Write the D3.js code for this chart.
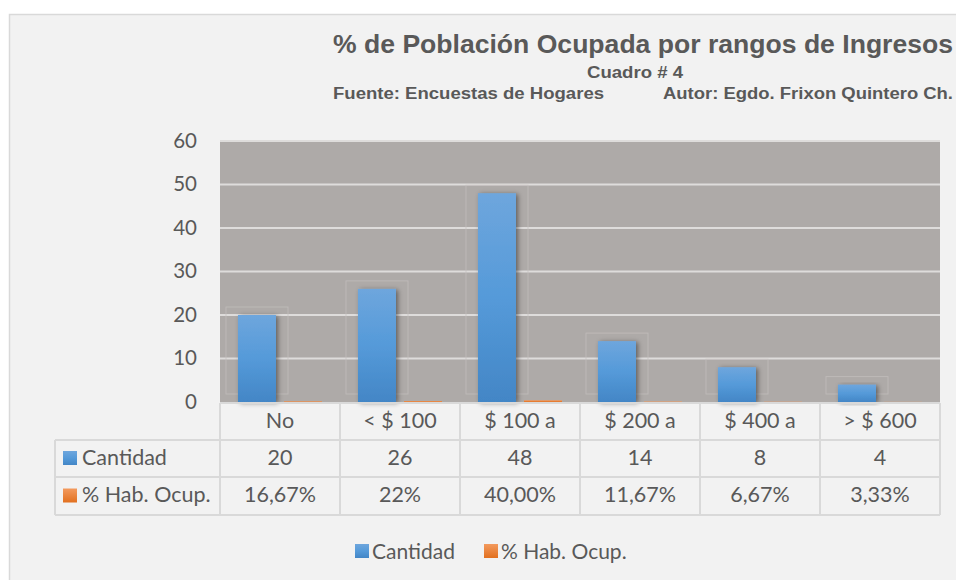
<!DOCTYPE html>
<html><head><meta charset="utf-8">
<script src="https://cdn.jsdelivr.net/npm/d3@7"></script>
<style>body{margin:0;background:#fff;}svg{display:block;}</style>
</head><body>
<svg id="c" width="956" height="580"></svg>
<script>
const categories = ["No", "< $ 100", "$ 100 a", "$ 200 a", "$ 400 a", "> $ 600"];
const seriesNames = ["Cantidad", "% Hab. Ocup."];
const cantidad = [20, 26, 48, 14, 8, 4];
const habOcup = [0.1667, 0.22, 0.40, 0.1167, 0.0667, 0.0333];
const habOcupLabels = ["16,67%", "22%", "40,00%", "11,67%", "6,67%", "3,33%"];
const yTicks = [0, 10, 20, 30, 40, 50, 60];

(function(){
const svg = d3.select("#c");
const txt = "#595959";
const calib = "Lato, 'Open Sans', sans-serif";
const arial = "'Liberation Sans', Arial, sans-serif";

const defs = svg.append("defs");
const g1 = defs.append("linearGradient").attr("id","gb").attr("x1",0).attr("y1",0).attr("x2",0).attr("y2",1);
g1.append("stop").attr("offset","0%").attr("stop-color","#6ea6dd");
g1.append("stop").attr("offset","50%").attr("stop-color","#559ad9");
g1.append("stop").attr("offset","100%").attr("stop-color","#4386c6");
const g2 = defs.append("linearGradient").attr("id","go").attr("x1",0).attr("y1",0).attr("x2",0).attr("y2",1);
g2.append("stop").attr("offset","0%").attr("stop-color","#f39a5e");
g2.append("stop").attr("offset","100%").attr("stop-color","#e2701f");
const f = defs.append("filter").attr("id","sh").attr("x","-30%").attr("y","-10%").attr("width","160%").attr("height","130%");
f.append("feDropShadow").attr("dx",2).attr("dy",1).attr("stdDeviation",2.5).attr("flood-color","#000").attr("flood-opacity",0.45);

svg.append("rect").attr("x",9.5).attr("y",14.5).attr("width",960).attr("height",580)
  .attr("fill","#f2f2f2").attr("stroke","#d9d9d9").attr("stroke-width",1.5);

svg.append("text").attr("x",643).attr("y",53).attr("text-anchor","middle")
  .attr("font-family",arial).attr("font-weight","bold").attr("font-size",25).attr("fill",txt)
  .attr("textLength",620).attr("lengthAdjust","spacingAndGlyphs")
  .text("% de Población Ocupada por rangos de Ingresos");
svg.append("text").attr("x",587).attr("y",78)
  .attr("font-family",arial).attr("font-weight","bold").attr("font-size",16.5).attr("fill",txt)
  .attr("textLength",96).attr("lengthAdjust","spacingAndGlyphs")
  .text("Cuadro # 4");
svg.append("text").attr("x",333).attr("y",98.5)
  .attr("font-family",arial).attr("font-weight","bold").attr("font-size",16).attr("fill",txt)
  .attr("textLength",271).attr("lengthAdjust","spacingAndGlyphs")
  .text("Fuente: Encuestas de Hogares");
svg.append("text").attr("x",663).attr("y",98.5)
  .attr("font-family",arial).attr("font-weight","bold").attr("font-size",16).attr("fill",txt)
  .attr("textLength",290).attr("lengthAdjust","spacingAndGlyphs")
  .text("Autor: Egdo. Frixon Quintero Ch.");

const pL = 220, pR = 940, pT = 141, pB = 402;
const x0 = d3.scaleBand().domain(categories).range([pL, pR]).padding(0);
const x1 = d3.scaleBand().domain(seriesNames).range([0, x0.bandwidth()]).paddingInner(8/46).paddingOuter(0.391);
const y = d3.scaleLinear().domain([0, 60]).range([pB, pT]);

svg.append("rect").attr("x",pL).attr("y",pT).attr("width",pR-pL).attr("height",pB-pT).attr("fill","#aeaaa8");
svg.append("g").selectAll("line").data(yTicks.filter(d=>d>0)).join("line")
  .attr("x1",pL).attr("x2",pR).attr("y1",d=>y(d)).attr("y2",d=>y(d))
  .attr("stroke","#dedcdb").attr("stroke-width",2);

const yAxis = d3.axisLeft(y).tickValues(yTicks).tickSize(0).tickPadding(0);
const ya = svg.append("g").attr("transform",`translate(197,0)`).call(yAxis);
ya.select(".domain").remove();
ya.selectAll("text").attr("font-family",calib).attr("font-size",20.5).attr("fill",txt).attr("dy","0.3em");

const data = categories.map((c,i)=>({c, vals:[cantidad[i], habOcup[i]]}));
const groups = svg.append("g").selectAll("g").data(data).join("g")
  .attr("transform", d=>`translate(${x0(d.c)},0)`);
groups.append("rect")
  .attr("x", x1("Cantidad")-12).attr("width", x1.bandwidth()+24)
  .attr("y", d=>y(d.vals[0])-8).attr("height", d=>pB-8-(y(d.vals[0])-8))
  .attr("fill","none").attr("stroke","#c4c1bf").attr("stroke-width",1).attr("opacity",0.7);

groups.selectAll("rect.bar").data(d=>d.vals.map((v,j)=>({s:seriesNames[j], v, j}))).join("rect")
  .attr("class","bar")
  .attr("x", d=>x1(d.s)).attr("width", x1.bandwidth())
  .attr("y", d=>y(d.v)).attr("height", d=>pB - y(d.v))
  .attr("fill", d=>d.j===0?"url(#gb)":"url(#go)")
  .attr("filter", d=>d.j===0?"url(#sh)":null);

const rowY = [403, 440, 477, 515];
const tableLeft = 55;
const grid = svg.append("g").attr("stroke","#d9d9d9").attr("stroke-width",2).attr("fill","none");
grid.append("line").attr("x1",pL).attr("x2",pR).attr("y1",rowY[0]).attr("y2",rowY[0]);
[1,2,3].forEach(r=>grid.append("line").attr("x1",tableLeft).attr("x2",pR).attr("y1",rowY[r]).attr("y2",rowY[r]));
grid.append("line").attr("x1",tableLeft).attr("x2",tableLeft).attr("y1",rowY[1]).attr("y2",rowY[3]);
categories.forEach(c=>grid.append("line").attr("x1",x0(c)).attr("x2",x0(c)).attr("y1",rowY[0]).attr("y2",rowY[3]));
grid.append("line").attr("x1",pR).attr("x2",pR).attr("y1",rowY[0]).attr("y2",rowY[3]);

const cellText = (xx, yy, t, anchor) => svg.append("text").attr("x",xx).attr("y",yy-2)
  .attr("text-anchor",anchor||"middle").attr("dominant-baseline","central")
  .attr("font-family",calib).attr("font-size",21.5).attr("fill",txt).text(t);
categories.forEach((c,i)=>{
  const cx = x0(c)+x0.bandwidth()/2;
  cellText(cx, (rowY[0]+rowY[1])/2, c);
  cellText(cx, (rowY[1]+rowY[2])/2, cantidad[i]);
  cellText(cx, (rowY[2]+rowY[3])/2, habOcupLabels[i]);
});
[["gb",0],["go",1]].forEach(([g,r])=>{
  const cy = (rowY[r+1]+rowY[r+2])/2;
  svg.append("rect").attr("x",63).attr("y",cy-7.5).attr("width",14).attr("height",14).attr("fill",`url(#${g})`);
  cellText(82, cy, seriesNames[r], "start");
});

const leg = [{n:seriesNames[0], g:"gb", x:355},{n:seriesNames[1], g:"go", x:484}];
leg.forEach(l=>{
  svg.append("rect").attr("x",l.x).attr("y",544).attr("width",14).attr("height",14).attr("fill",`url(#${l.g})`);
  svg.append("text").attr("x",l.x+17).attr("y",550).attr("dominant-baseline","central")
    .attr("font-family",calib).attr("font-size",21).attr("fill",txt).text(l.n);
});
})();
</script>
</body></html>
